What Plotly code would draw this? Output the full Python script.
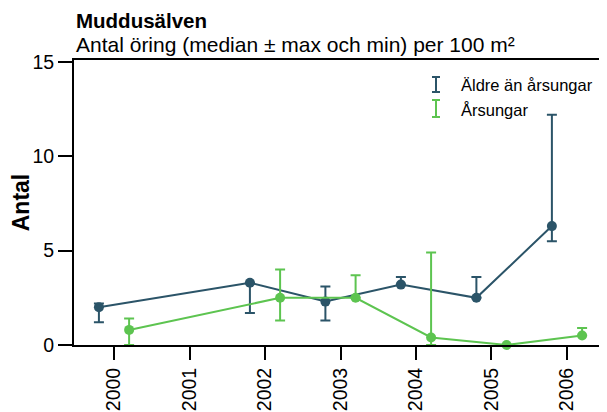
import plotly.graph_objects as go

years = [2000, 2002, 2003, 2004, 2005, 2006]
tick_years = [2000, 2001, 2002, 2003, 2004, 2005, 2006]

aldre_median = [2.0, 3.3, 2.3, 3.2, 2.5, 6.3]
aldre_max = [2.2, 3.3, 3.1, 3.6, 3.6, 12.2]
aldre_min = [1.2, 1.7, 1.3, 3.2, 2.5, 5.5]

arsungar_median = [0.8, 2.5, 2.5, 0.4, 0.0, 0.5]
arsungar_max = [1.4, 4.0, 3.7, 4.9, 0.0, 0.9]
arsungar_min = [0.0, 1.3, 2.5, 0.0, 0.0, 0.5]

series_names = ["Äldre än årsungar", "Årsungar"]
dark = "#2b5468"
green = "#5dc450"
offset = 0.2

fig = go.Figure()

def add_series(med, mx, mn, color, dx, name):
    xs = [y + dx for y in years]
    fig.add_trace(go.Scatter(
        x=xs, y=med, mode="lines+markers", name=name,
        line=dict(color=color, width=2),
        marker=dict(color=color, size=10),
        error_y=dict(type="data", symmetric=False,
                     array=[a - m for a, m in zip(mx, med)],
                     arrayminus=[m - b for m, b in zip(med, mn)],
                     color=color, thickness=2, width=5),
        showlegend=False, cliponaxis=False,
    ))

add_series(aldre_median, aldre_max, aldre_min, dark, -offset, series_names[0])
add_series(arsungar_median, arsungar_max, arsungar_min, green, offset, series_names[1])

# page offset (default body margin) compensation
OFF = 8
W, H, L, T = 533.0, 285.0, 74.0, 60.0
def px(x):
    return (x - L) / W
def py(y):
    return (T + H - y) / H

shapes = []
annotations = []
for (ytop, ybot, ytext, color, name) in [(77, 92, 85, dark, series_names[0]),
                                          (100, 117, 110, green, series_names[1])]:
    xc = 436
    shapes.append(dict(type="line", xref="paper", yref="paper", x0=px(xc), x1=px(xc),
                       y0=py(ytop), y1=py(ybot), line=dict(color=color, width=2)))
    for yy in (ytop, ybot):
        shapes.append(dict(type="line", xref="paper", yref="paper", x0=px(xc - 4), x1=px(xc + 4),
                           y0=py(yy), y1=py(yy), line=dict(color=color, width=2)))
    annotations.append(dict(text=name, xref="paper", yref="paper", x=px(459), y=py(ytext),
                            xanchor="left", yanchor="middle", showarrow=False,
                            font=dict(size=16.5, color="#000")))

annotations.append(dict(text="<b>Muddusälven</b>", xref="paper", yref="paper", x=px(74), y=py(8),
                        xanchor="left", yanchor="top", valign="middle", height=21, showarrow=False,
                        font=dict(size=20.5, color="#000")))
annotations.append(dict(text="Antal öring (median ± max och min) per 100 m²", xref="paper", yref="paper",
                        x=px(74), y=py(44), xanchor="left", yanchor="middle", showarrow=False,
                        font=dict(size=21, color="#000")))

fig.update_layout(
    width=607 - OFF, height=412 - OFF,
    margin=dict(l=74 - OFF, r=0, t=60 - OFF, b=67, autoexpand=False),
    plot_bgcolor="white", paper_bgcolor="white",
    font=dict(family="Liberation Sans, Arial, sans-serif", size=19, color="#000"),
    shapes=shapes, annotations=annotations,
    xaxis=dict(range=[1999.47, 2006.53], tickmode="array", tickvals=tick_years,
               ticktext=[str(y) for y in tick_years], tickangle=-90,
               showgrid=False, zeroline=False, showline=True, linecolor="#000", linewidth=2,
               mirror=True, ticks="outside", ticklen=13, tickwidth=2, tickcolor="#000",
               tickfont=dict(size=19.5)),
    yaxis=dict(range=[0, 15.1], tickvals=[0, 5, 10, 15],
               showgrid=False, zeroline=False, showline=True, linecolor="#000", linewidth=2,
               ticks="outside", ticklen=14, tickwidth=2, tickcolor="#000",
               tickfont=dict(size=19.5),
               title=dict(text="<b>Antal</b>", font=dict(size=23), standoff=8)),
)

fig.write_html("out.html")
